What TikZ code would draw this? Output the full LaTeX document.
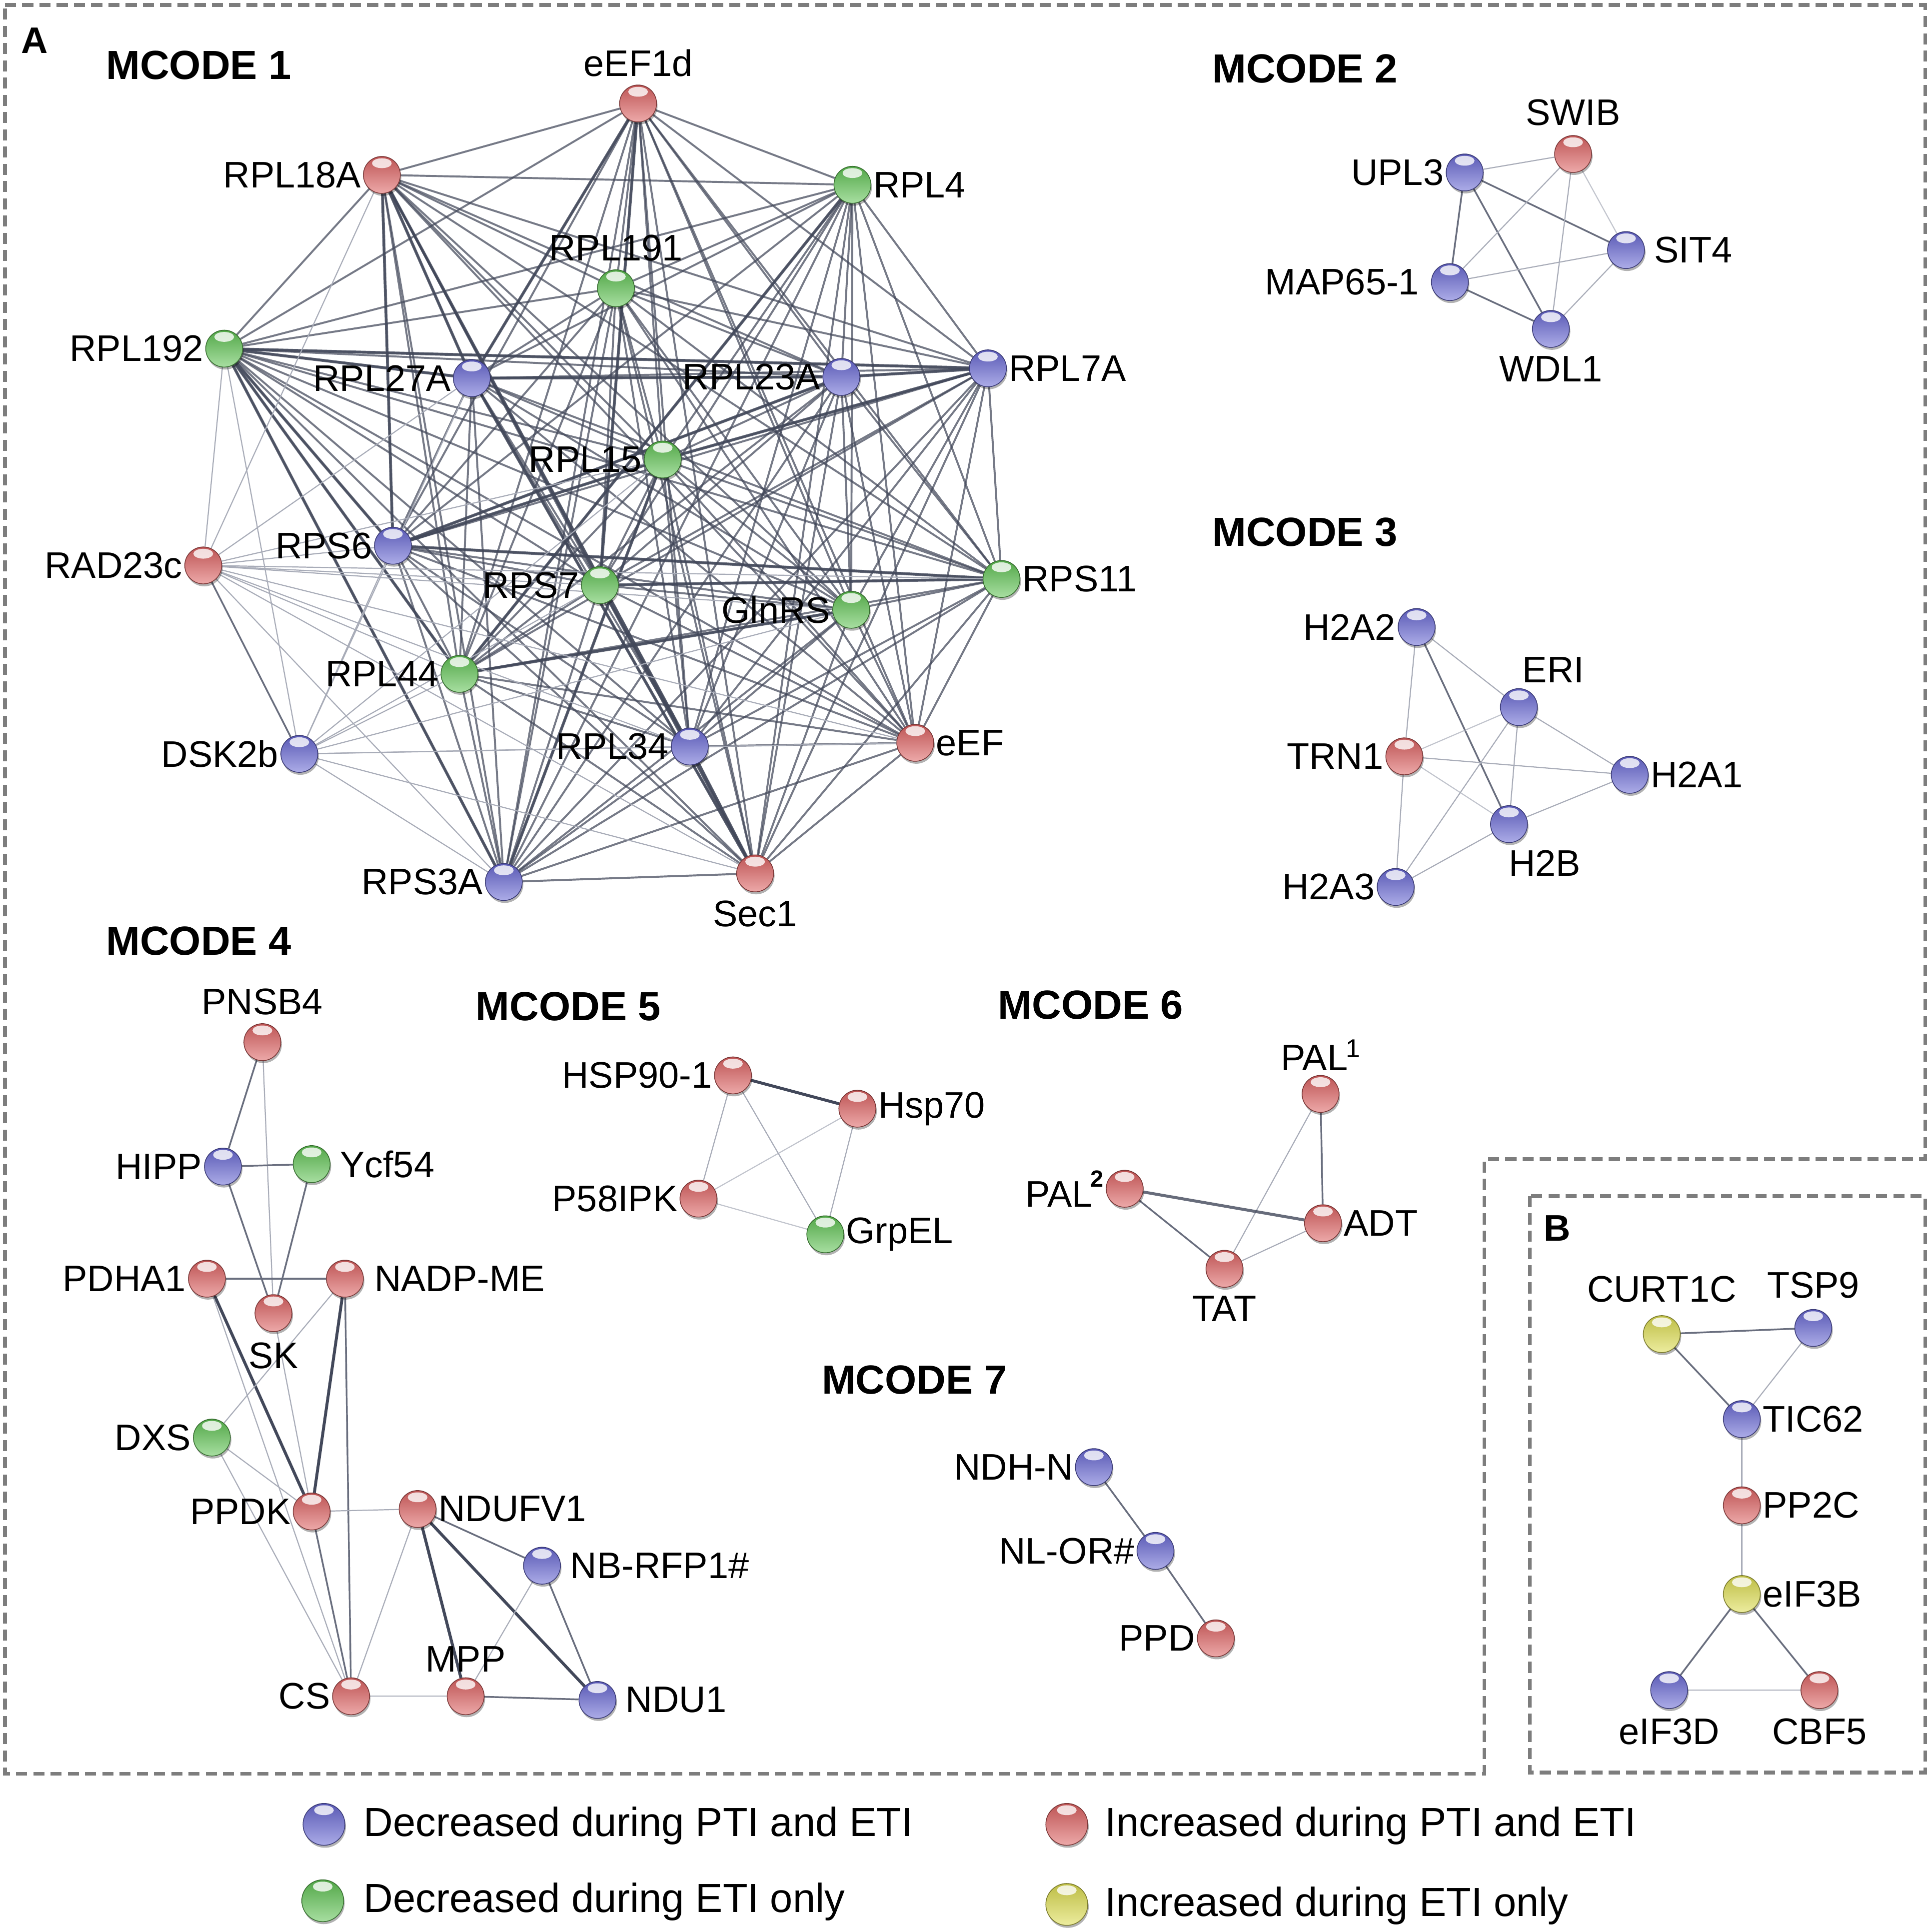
\documentclass[tikz,border=0pt]{standalone}
\usepackage{fontspec}
\setmainfont{Liberation Sans}
\usetikzlibrary{shadows}
\definecolor{cblue}{RGB}{104,104,212}
\definecolor{cred}{RGB}{222,98,98}
\definecolor{cgreen}{RGB}{96,196,84}
\definecolor{cyellow}{RGB}{222,222,80}
\definecolor{dashgray}{RGB}{125,125,125}
\definecolor{ethin}{RGB}{168,172,184}
\definecolor{emed}{RGB}{105,110,126}
\definecolor{ethick}{RGB}{66,72,90}
\pgfdeclarelayer{back}
\pgfdeclarelayer{edges}
\pgfsetlayers{back,edges,main}
\tikzset{
  prot/.style={circle, inner sep=0pt, minimum size=30pt, draw=#1!55!black, line width=0.6pt,
    top color=#1!85!black, bottom color=#1!55!white,
    path picture={\fill[white,opacity=0.8] ([yshift=-5.5pt]path picture bounding box.north) ellipse (8pt and 4pt);},
    drop shadow={shadow xshift=0.8pt, shadow yshift=-2pt, opacity=0.3, fill=black}},
  lbl/.style={font=\fontsize{30}{36}\selectfont, inner sep=1.5pt, text=black},
  ttl/.style={font=\bfseries\fontsize{33}{40}\selectfont, inner sep=0pt, anchor=west},
  leg/.style={font=\fontsize{33}{40}\selectfont, inner sep=0pt, anchor=west},
  e1/.style={line width=0.9pt, ethin},
  e2/.style={line width=1.4pt, emed},
  e3/.style={line width=2.4pt, ethick},
  em/.style={line width=1.6pt, ethick, opacity=0.72},
  border/.style={dashgray, line width=3pt, dash pattern=on 9pt off 5pt},
}
\newcommand\pn[6][]{\node[prot=#3, label={[lbl,#1]#5:#6}] (#2) at (#4) {};}
\newcommand\supA[1]{\kern-1.5pt\raisebox{10.5pt}{\fontsize{21}{21}\selectfont #1}}
\newcommand\supB[1]{\kern-1.5pt\raisebox{16pt}{\fontsize{19}{19}\selectfont\bfseries #1}}
\begin{document}
\begin{tikzpicture}[x=1pt,y=-1pt]
\useasboundingbox (0,0) rectangle (1568,1568.4);
\begin{pgfonlayer}{back}
\fill[white] (0,0) rectangle (1568,1568.4);
\end{pgfonlayer}

% borders
\draw[border] (4,4) -- (1563,4) -- (1563,941) -- (1205,941) -- (1205,1440) -- (4,1440) -- cycle;
\draw[border] (1242,971) rectangle (1563,1439);

% panel letters and titles
\node[font=\bfseries\fontsize{30}{36}\selectfont, inner sep=0pt] (pA) at (28,33) {A};
\node[font=\bfseries\fontsize{30}{36}\selectfont, inner sep=0pt] (pB) at (1264,997) {B};
\node[ttl] (t1) at (86,53) {MCODE 1};
\node[ttl] (t2) at (984,56) {MCODE 2};
\node[ttl] (t3) at (984,432) {MCODE 3};
\node[ttl] (t4) at (86,764) {MCODE 4};
\node[ttl] (t5) at (386,817) {MCODE 5};
\node[ttl] (t6) at (810,816) {MCODE 6};
\node[ttl] (t7) at (667,1120) {MCODE 7};

% MCODE 1
\pn[label distance=5pt]{eEFd}{cred}{518,84}{above}{eEF1d}
\pn{L18A}{cred}{310,142}{left}{RPL18A}
\pn{L4}{cgreen}{692,150}{right}{RPL4}
\pn[label distance=5pt]{L191}{cgreen}{500,234}{above}{RPL191}
\pn{L192}{cgreen}{182,283}{left}{RPL192}
\pn{L27A}{cblue}{383,307}{left}{RPL27A}
\pn{L23A}{cblue}{683,306}{left}{RPL23A}
\pn{L7A}{cblue}{802,299}{right}{RPL7A}
\pn{L15}{cgreen}{538,373}{left}{RPL15}
\pn{S6}{cblue}{319,443}{left}{RPS6}
\pn{RAD}{cred}{165,459}{left}{RAD23c}
\pn{S7}{cgreen}{487,475}{left}{RPS7}
\pn{Gln}{cgreen}{691,495}{left}{GlnRS}
\pn{S11}{cgreen}{813,470}{right}{RPS11}
\pn{L44}{cgreen}{373,547}{left}{RPL44}
\pn{DSK}{cblue}{243,612}{left}{DSK2b}
\pn{L34}{cblue}{560,606}{left}{RPL34}
\pn{eEF}{cred}{743,603}{right}{eEF}
\pn{S3A}{cblue}{409,716}{left}{RPS3A}
\pn[label distance=5pt]{Sec}{cred}{613,709}{below}{Sec1}

% MCODE 2
\pn[label distance=6pt]{SWIB}{cred}{1277,125}{above}{SWIB}
\pn{UPL3}{cblue}{1189,140}{left}{UPL3}
\pn[label distance=6pt]{SIT4}{cblue}{1320,203}{right}{SIT4}
\pn[label distance=8pt]{MAP}{cblue}{1177,229}{left}{MAP65-1}
\pn[label distance=5pt]{WDL}{cblue}{1259,267}{below}{WDL1}

% MCODE 3
\pn{H2A2}{cblue}{1150,509}{left}{H2A2}
\pn[xshift=28pt,label distance=3pt]{ERI}{cblue}{1233,574}{above}{ERI}
\pn{TRN}{cred}{1140,614}{left}{TRN1}
\pn{H2A1}{cblue}{1323,629}{right}{H2A1}
\pn[xshift=29pt,label distance=4pt]{H2B}{cblue}{1225,669}{below}{H2B}
\pn{H2A3}{cblue}{1133,720}{left}{H2A3}

% MCODE 4
\pn[label distance=5pt]{PNSB}{cred}{213,846}{above}{PNSB4}
\pn{HIPP}{cblue}{181,947}{left}{HIPP}
\pn[label distance=6pt]{Ycf}{cgreen}{253,945}{right}{Ycf54}
\pn{PDHA}{cred}{168,1038}{left}{PDHA1}
\pn[label distance=7pt]{NADP}{cred}{280,1038}{right}{NADP-ME}
\pn[label distance=7pt]{SK}{cred}{222,1066}{below}{SK}
\pn{DXS}{cgreen}{172,1167}{left}{DXS}
\pn{PPDK}{cred}{253,1227}{left}{PPDK}
\pn{NDUF}{cred}{339,1225}{right}{NDUFV1}
\pn[label distance=6pt]{NBR}{cblue}{440,1271}{right}{NB-RFP1\#}
\pn[label distance=3pt]{MPP}{cred}{378,1377}{above}{MPP}
\pn{CS}{cred}{285,1377}{left}{CS}
\pn[label distance=6pt]{NDU}{cblue}{485,1380}{right}{NDU1}

% MCODE 5
\pn{HSP90}{cred}{595,873}{left}{HSP90-1}
\pn{Hsp70}{cred}{696,900}{right}{Hsp70}
\pn{P58}{cred}{567,973}{left}{P58IPK}
\pn{Grp}{cgreen}{670,1002}{right}{GrpEL}

% MCODE 6
\pn[label distance=2pt]{PAL1}{cred}{1072,888}{above}{PAL\supA{1}}
\pn{PAL2}{cred}{913,965}{left}{PAL\supB{2}}
\pn{ADT}{cred}{1074,993}{right}{ADT}
\pn[label distance=5pt]{TAT}{cred}{994,1030}{below}{TAT}

% MCODE 7
\pn{NDHN}{cblue}{888,1191}{left}{NDH-N}
\pn{NLOR}{cblue}{938,1259}{left}{NL-OR\#}
\pn{PPD}{cred}{987,1330}{left}{PPD}

% B
\pn[label distance=9pt]{CURT}{cyellow}{1349,1083}{above}{CURT1C}
\pn[label distance=7pt]{TSP9}{cblue}{1472,1078}{above}{TSP9}
\pn{TIC}{cblue}{1414,1152}{right}{TIC62}
\pn{PP2C}{cred}{1414,1222}{right}{PP2C}
\pn{eIF3B}{cyellow}{1414,1294}{right}{eIF3B}
\pn[label distance=6pt]{eIF3D}{cblue}{1355,1372}{below}{eIF3D}
\pn[label distance=6pt]{CBF}{cred}{1477,1372}{below}{CBF5}

% legend
\node[prot=cblue, minimum size=34pt] (lg1) at (263,1481) {};
\node[leg] (lg1t) at (295,1482) {Decreased during PTI and ETI};
\node[prot=cgreen, minimum size=34pt] (lg2) at (262,1543) {};
\node[leg] (lg2t) at (295,1544) {Decreased during ETI only};
\node[prot=cred, minimum size=34pt] (lg3) at (866,1481) {};
\node[leg] (lg3t) at (897,1482) {Increased during PTI and ETI};
\node[prot=cyellow, minimum size=34pt] (lg4) at (866,1546) {};
\node[leg] (lg4t) at (897,1547) {Increased during ETI only};

\begin{pgfonlayer}{edges}
% MCODE 1: dense core
\foreach \a [count=\i] in {eEFd,L18A,L4,L191,L192,L27A,L23A,L7A,L15,S6,S7,Gln,S11,L44,L34,eEF,S3A,Sec}{
  \foreach \b [count=\j] in {eEFd,L18A,L4,L191,L192,L27A,L23A,L7A,L15,S6,S7,Gln,S11,L44,L34,eEF,S3A,Sec}{
    \ifnum\j>\i \draw[em] (\a) -- (\b); \fi
  }
}
\foreach \a/\b in {L18A/L34, L18A/L27A, L192/L7A, L192/L27A, L27A/L23A, L27A/Sec, L23A/L7A,
  S6/L23A, S6/S11, S6/L15, L15/L7A, L44/Gln, S7/S11, L34/Sec, L192/S6, L192/L44, L192/S3A,
  eEFd/L27A, eEFd/S7, L18A/S6, S3A/L15, L4/L44}
  \draw[e3, opacity=0.8] (\a) -- (\b);
\foreach \b in {L192,L18A,S3A,S6,L15,S7,Gln,S11,L34,eEF,L44,Sec,L27A}
  \draw[e1] (RAD) -- (\b);
\foreach \b in {L192,S6,L44,S7,L15,L34,eEF,Sec,S3A,Gln,L27A}
  \draw[e1] (DSK) -- (\b);
\draw[e2] (RAD) -- (DSK);

% MCODE 2
\draw[e1] (UPL3) -- (SWIB);
\draw[e2] (UPL3) -- (SIT4);
\draw[e2] (UPL3) -- (MAP);
\draw[e2] (UPL3) -- (WDL);
\draw[e1] (SWIB) -- (MAP);
\draw[e1] (SWIB) -- (WDL);
\draw[e1, opacity=0.7] (SWIB) -- (SIT4);
\draw[e1] (MAP) -- (SIT4);
\draw[e2] (MAP) -- (WDL);
\draw[e1] (SIT4) -- (WDL);

% MCODE 3
\draw[e1] (H2A2) -- (TRN);
\draw[e1] (H2A2) -- (ERI);
\draw[e2] (H2A2) -- (H2B);
\draw[e1, opacity=0.7] (TRN) -- (ERI);
\draw[e1] (TRN) -- (H2A1);
\draw[e1, opacity=0.7] (TRN) -- (H2B);
\draw[e1] (TRN) -- (H2A3);
\draw[e1] (ERI) -- (H2B);
\draw[e1] (ERI) -- (H2A1);
\draw[e1] (ERI) -- (H2A3);
\draw[e1] (H2B) -- (H2A1);
\draw[e1] (H2B) -- (H2A3);

% MCODE 4
\draw[e2] (PNSB) -- (HIPP);
\draw[e1] (PNSB) -- (SK);
\draw[e2] (HIPP) -- (Ycf);
\draw[e2] (HIPP) -- (SK);
\draw[e2] (Ycf) -- (SK);
\draw[e2] (PDHA) -- (NADP);
\draw[e3] (PDHA) -- (PPDK);
\draw[e1] (PDHA) -- (CS);
\draw[e3] (NADP) -- (PPDK);
\draw[e2] (NADP) -- (CS);
\draw[e1] (NADP) -- (DXS);
\draw[e1] (SK) -- (PPDK);
\draw[e1] (DXS) -- (PPDK);
\draw[e1] (DXS) -- (CS);
\draw[e1] (PPDK) -- (NDUF);
\draw[e2] (PPDK) -- (CS);
\draw[e1] (NDUF) -- (CS);
\draw[e3] (NDUF) -- (MPP);
\draw[e2] (NDUF) -- (NBR);
\draw[e3] (NDUF) -- (NDU);
\draw[e1] (NBR) -- (MPP);
\draw[e2] (NBR) -- (NDU);
\draw[e1] (CS) -- (MPP);
\draw[e2] (MPP) -- (NDU);

% MCODE 5
\draw[e3] (HSP90) -- (Hsp70);
\draw[e1] (HSP90) -- (P58);
\draw[e1] (HSP90) -- (Grp);
\draw[e1, opacity=0.7] (Hsp70) -- (P58);
\draw[e1] (Hsp70) -- (Grp);
\draw[e1, opacity=0.7] (P58) -- (Grp);

% MCODE 6
\draw[e2] (PAL1) -- (ADT);
\draw[e1] (PAL1) -- (TAT);
\draw[e3, opacity=0.8] (PAL2) -- (ADT);
\draw[e2] (PAL2) -- (TAT);
\draw[e1] (TAT) -- (ADT);

% MCODE 7
\draw[e2] (NDHN) -- (NLOR);
\draw[e2] (NLOR) -- (PPD);

% B
\draw[e2] (CURT) -- (TSP9);
\draw[e2] (CURT) -- (TIC);
\draw[e1] (TSP9) -- (TIC);
\draw[e1] (TIC) -- (PP2C);
\draw[e1] (PP2C) -- (eIF3B);
\draw[e2] (eIF3B) -- (eIF3D);
\draw[e2] (eIF3B) -- (CBF);
\draw[e1] (eIF3D) -- (CBF);
\end{pgfonlayer}
\end{tikzpicture}
\end{document}
